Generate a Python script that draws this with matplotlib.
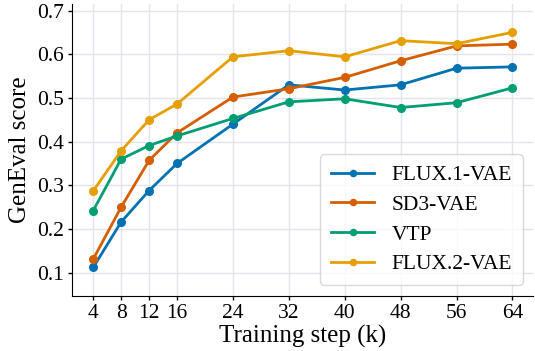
import numpy as np
import matplotlib
matplotlib.use("Agg")
import matplotlib.pyplot as plt

steps = [4, 8, 12, 16, 24, 32, 40, 48, 56, 64]
flux1 = [0.112, 0.216, 0.288, 0.350, 0.440, 0.530, 0.518, 0.530, 0.568, 0.571]
sd3 = [0.131, 0.250, 0.357, 0.420, 0.502, 0.521, 0.547, 0.585, 0.619, 0.623]
vtp = [0.242, 0.360, 0.391, 0.413, 0.453, 0.491, 0.498, 0.478, 0.489, 0.523]
flux2 = [0.287, 0.379, 0.450, 0.486, 0.594, 0.608, 0.594, 0.631, 0.624, 0.650]

series = [
    ("FLUX.1-VAE", flux1, "#0072b2"),
    ("SD3-VAE", sd3, "#d55e00"),
    ("VTP", vtp, "#009e73"),
    ("FLUX.2-VAE", flux2, "#e69f00"),
]

plt.rcParams['font.family'] = ['Liberation Serif', 'DejaVu Serif']

fig, ax = plt.subplots(figsize=(5.35, 3.51), dpi=100)
for name, vals, col in series:
    ax.plot(steps, vals, marker='o', markersize=5.5, linewidth=2, color=col, label=name)

ax.set_xlim(1, 67)
ax.set_ylim(0.047, 0.716)
ax.set_xticks(steps)
ax.set_yticks([0.1, 0.2, 0.3, 0.4, 0.5, 0.6, 0.7])
ax.tick_params(labelsize=15.5, length=3, width=1, pad=3)
ax.grid(True, color='#e3e4ec', linewidth=1)
ax.set_axisbelow(True)
for s in ['top', 'right']:
    ax.spines[s].set_visible(False)
ax.set_xlabel("Training step (k)", fontsize=18, labelpad=1)
ax.set_ylabel("GenEval score", fontsize=18, labelpad=4)
leg = ax.legend(loc='lower right', fontsize=15.5, frameon=True, handlelength=2.0,
                borderpad=0.5, labelspacing=0.45, markerscale=0.8)
leg.get_frame().set_edgecolor('#d0d0d0')

fig.subplots_adjust(left=0.135, right=0.997, top=0.99, bottom=0.157)
fig.savefig("out.png")
